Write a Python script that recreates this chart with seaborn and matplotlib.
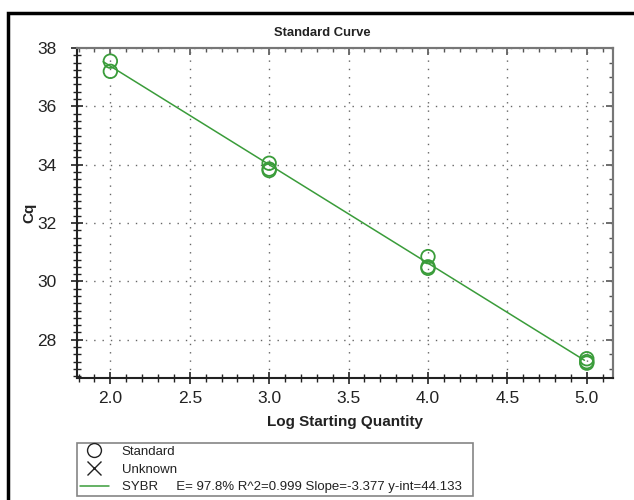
import matplotlib
matplotlib.use("Agg")
import matplotlib.pyplot as plt
from matplotlib.lines import Line2D
from matplotlib.patches import Rectangle
from matplotlib.ticker import MultipleLocator, FormatStrFormatter, NullFormatter
import numpy as np
import pandas as pd
import seaborn as sns

# Data
log_qty = [2.0, 2.0, 3.0, 3.0, 3.0, 4.0, 4.0, 4.0, 5.0, 5.0, 5.0]
cq = [37.55, 37.2, 34.05, 33.85, 33.8, 30.85, 30.5, 30.45, 27.35, 27.2, 27.25]
slope = -3.377
intercept = 44.133
fit_x = [1.955, 4.985]
legend_labels = ["Standard", "Unknown",
                 "SYBR     E= 97.8% R^2=0.999 Slope=-3.377 y-int=44.133"]

sns.set_theme(style="white")
plt.rcParams['font.family'] = ['Liberation Sans', 'DejaVu Sans']

green = "#3a9c3a"
dark = "#222222"
df = pd.DataFrame({"x": log_qty, "y": cq})
fit_df = pd.DataFrame({"x": fit_x, "y": [slope * v + intercept for v in fit_x]})

fig = plt.figure(figsize=(6.34, 5.0), dpi=100)
ax = fig.add_axes([77 / 634, 1 - 378 / 500, (613 - 77) / 634, (378 - 48) / 500])

sns.lineplot(data=fit_df, x="x", y="y", ax=ax, color=green, linewidth=1.1)
sns.scatterplot(data=df, x="x", y="y", ax=ax, marker="o", s=95,
                facecolor="none", edgecolor=green, linewidth=1.3, zorder=3)

ax.set_xlim(1.79, 5.165)
ax.set_ylim(26.69, 38.0)
ax.xaxis.set_major_locator(MultipleLocator(0.5))
ax.xaxis.set_minor_locator(MultipleLocator(0.1))
ax.yaxis.set_major_locator(MultipleLocator(2))
ax.yaxis.set_minor_locator(MultipleLocator(0.25))
ax.xaxis.set_major_formatter(FormatStrFormatter("%.1f"))

ax.grid(True, which="major", color="#666666", linestyle=(0, (1, 5)), linewidth=1.0)
ax.tick_params(axis="both", which="major", direction="inout", length=9, width=1.2,
               color=dark, labelsize=12.5, labelcolor=dark)
ax.tick_params(axis="both", which="minor", direction="inout", length=5.5, width=1.0,
               color=dark)
ax.tick_params(axis="y", which="major", pad=10)
ax.tick_params(axis="x", which="major", pad=5)
ax.tick_params(which="both", top=False, right=False, bottom=True, left=True)
for side in ["left", "bottom"]:
    ax.spines[side].set_color(dark)
    ax.spines[side].set_linewidth(1.5)
for side in ["top", "right"]:
    ax.spines[side].set_color("#777777")
    ax.spines[side].set_linewidth(1.5)

# inward ticks on the top and right edges
secx = ax.secondary_xaxis("top")
secx.xaxis.set_major_locator(MultipleLocator(0.5))
secx.xaxis.set_minor_locator(MultipleLocator(0.1))
secx.xaxis.set_major_formatter(NullFormatter())
secx.tick_params(which="major", direction="in", length=5, width=1.2, color="#555555")
secx.tick_params(which="minor", direction="in", length=3, width=1.0, color="#555555")
secx.spines["top"].set_color("#777777")
secx.spines["top"].set_linewidth(1.5)
secy = ax.secondary_yaxis("right")
secy.yaxis.set_major_locator(MultipleLocator(2))
secy.yaxis.set_minor_locator(MultipleLocator(0.5))
secy.yaxis.set_major_formatter(NullFormatter())
secy.tick_params(which="major", direction="in", length=5, width=1.2, color="#555555")
secy.tick_params(which="minor", direction="in", length=3, width=1.0, color="#555555")
secy.spines["right"].set_color("#777777")
secy.spines["right"].set_linewidth(1.5)

fig.text(322 / 634, 1 - 33 / 500, "Standard Curve", fontsize=9.4, fontweight="bold",
         color=dark, ha="center", va="center")
ax.set_xlabel("Log Starting Quantity", fontsize=11, fontweight="bold", labelpad=6, color=dark)
ax.set_ylabel("Cq", fontsize=11, fontweight="bold", color=dark)
ax.yaxis.set_label_coords(-0.076, 0.5)

handles = [
    Line2D([], [], marker="o", linestyle="none", markerfacecolor="none",
           markeredgecolor=dark, markersize=10, markeredgewidth=1.0),
    Line2D([], [], marker="x", linestyle="none", color=dark,
           markersize=10, markeredgewidth=1.0),
    Line2D([], [], color=green, linewidth=1.1),
]
leg = fig.legend(handles, legend_labels, loc="lower left",
                 bbox_to_anchor=(77 / 634, 4 / 500, (473 - 77) / 634, (496 - 439) / 500),
                 mode="expand", fontsize=9.5, frameon=True, fancybox=False,
                 borderpad=0.2, labelspacing=0.42, handlelength=2.2, handletextpad=1.0,
                 borderaxespad=0)
leg.get_frame().set_edgecolor("#666666")
leg.get_frame().set_linewidth(1.2)
for t in leg.get_texts():
    t.set_color(dark)

fig.patches.append(Rectangle((8 / 634, -0.05), 0.99, (500 - 13) / 500 + 0.05,
                             transform=fig.transFigure, fill=False,
                             edgecolor="black", linewidth=2.5))

fig.savefig("out.png", dpi=100)
